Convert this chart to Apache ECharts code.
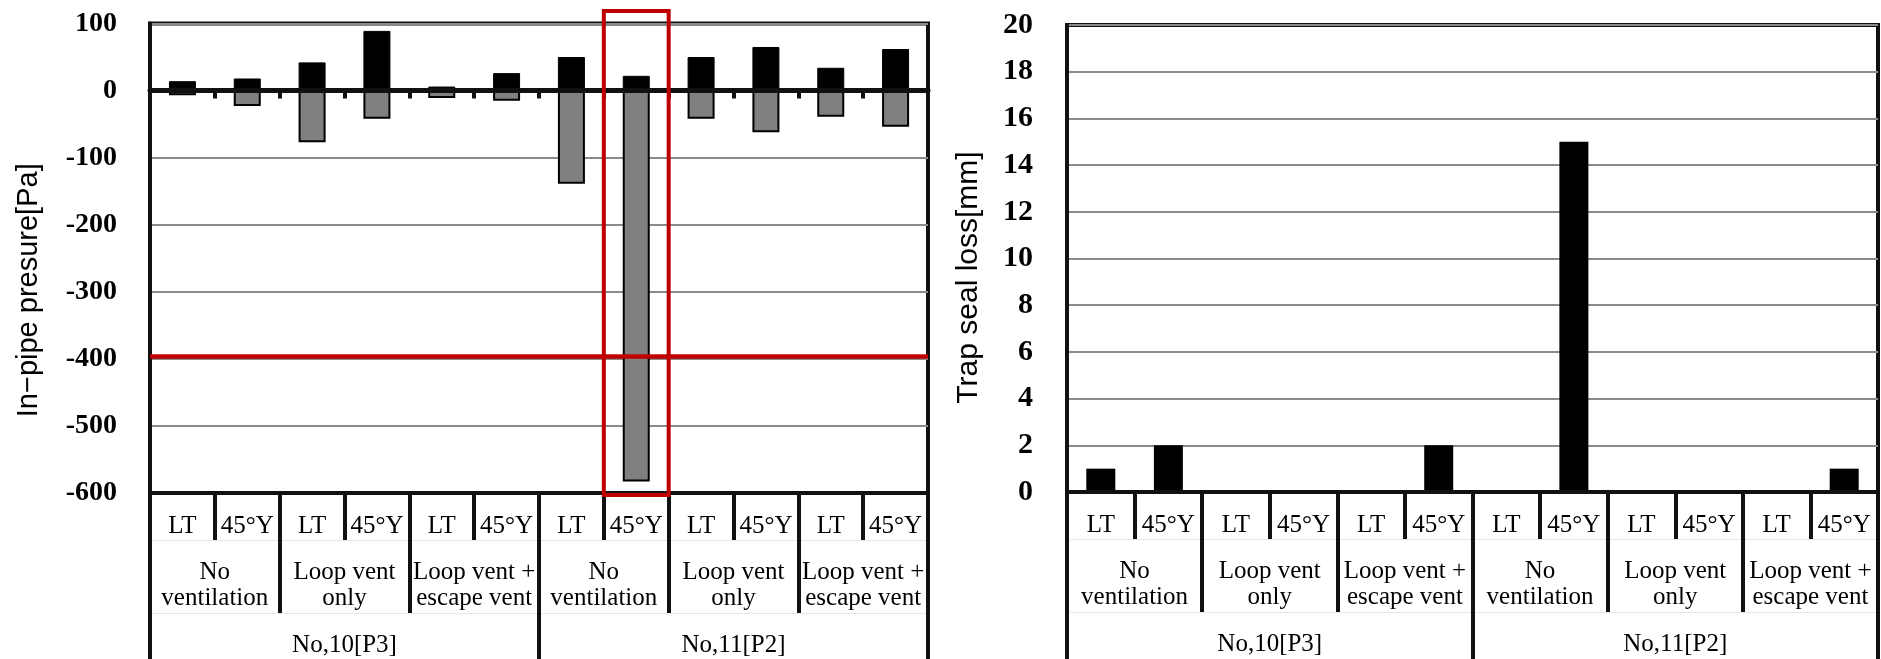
<!DOCTYPE html>
<html><head><meta charset="utf-8">
<script src="https://cdn.jsdelivr.net/npm/echarts@6/dist/echarts.min.js"></script>
<style>html,body{margin:0;padding:0;background:#fff}#c{width:1881px;height:659px}</style>
</head><body><div id="c"></div>
<script>
const categories = ['LT','45°Y','LT','45°Y','LT','45°Y','LT','45°Y','LT','45°Y','LT','45°Y'];
const ventTypes = ['No\nventilation','Loop vent\nonly','Loop vent +\nescape vent','No\nventilation','Loop vent\nonly','Loop vent +\nescape vent'];
const pipes = ['No,10[P3]','No,11[P2]'];
const pressureMax = [14, 18, 42, 89, 6, 26, 50, 22, 50, 65, 34, 62];
const pressureMin = [-7, -23, -77, -42, -11, -15, -139, -583, -42, -62, -39, -54];
const sealLoss = [1, 2, 0, 0, 0, 2, 0, 15, 0, 0, 0, 1];
const pressureRange = [-600, 100, 100];
const sealRange = [0, 20, 2];
const pressureLimit = -396;
const highlightIndex = 7;

const SERIF = "'Liberation Serif','Times New Roman',serif";
const SANS = "'Liberation Sans',Arial,sans-serif";
const BLACK = '#111';

function tableAxes(gridIndex) {
  const lab = {interval:0, fontFamily:SERIF, fontSize:25, color:'#000', verticalAlign:'middle', lineHeight:26};
  return [
    {gridIndex, type:'category', data:categories, position:'bottom', offset:0,
     axisLine:{onZero:false, lineStyle:{color:BLACK, width:4}},
     axisTick:{show:true, interval:0, length:47, lineStyle:{color:BLACK, width:4}},
     axisLabel:Object.assign({}, lab, {margin:33}), splitLine:{show:false}, z:4},
    {gridIndex, type:'category', data:ventTypes, position:'bottom', offset:47,
     axisLine:{onZero:false, lineStyle:{color:'#e6e6e6', width:1}},
     axisTick:{show:true, interval:0, length:73, lineStyle:{color:BLACK, width:4}},
     axisLabel:Object.assign({}, lab, {margin:45}), splitLine:{show:false}, z:4},
    {gridIndex, type:'category', data:pipes, position:'bottom', offset:120,
     axisLine:{onZero:false, lineStyle:{color:'#e6e6e6', width:1}},
     axisTick:{show:true, interval:0, length:60, lineStyle:{color:BLACK, width:4}},
     axisLabel:Object.assign({}, lab, {margin:32}), splitLine:{show:false}, z:4}
  ];
}

const chart = echarts.init(document.getElementById('c'));
chart.setOption({
  animation:false,
  backgroundColor:'#fff',
  grid:[
    {left:150, top:23.5, width:778, height:469.5, show:true, borderColor:BLACK, borderWidth:4, backgroundColor:'transparent'},
    {left:1067, top:25, width:811, height:467, show:true, borderColor:BLACK, borderWidth:4, backgroundColor:'transparent'}
  ],
  xAxis:[
    {gridIndex:0, type:'category', data:categories, position:'bottom',
     axisLine:{onZero:true, lineStyle:{color:BLACK, width:5}},
     axisTick:{show:true, interval:0, length:8, lineStyle:{color:BLACK, width:4}},
     axisLabel:{show:false}, splitLine:{show:false}, z:5},
    ...tableAxes(0),
    ...tableAxes(1)
  ],
  yAxis:[
    {gridIndex:0, type:'value', min:pressureRange[0], max:pressureRange[1], interval:pressureRange[2],
     name:'In\u2212pipe presure[Pa]', nameLocation:'middle', nameGap:107,
     nameTextStyle:{fontFamily:SANS, fontSize:29, color:'#000', padding:[0,64,0,0]},
     axisLine:{show:true, lineStyle:{color:BLACK, width:4}}, axisTick:{show:false},
     axisLabel:{fontFamily:SERIF, fontWeight:'bold', fontSize:28, color:'#000', margin:33},
     splitLine:{show:true, lineStyle:{color:'#8a8a8a', width:2}}},
    {gridIndex:1, type:'value', min:sealRange[0], max:sealRange[1], interval:sealRange[2],
     name:'Trap seal loss[mm]', nameLocation:'middle', nameGap:83,
     nameTextStyle:{fontFamily:SANS, fontSize:30, color:'#000', padding:[0,38,0,0]},
     axisLine:{show:true, lineStyle:{color:BLACK, width:4}}, axisTick:{show:false},
     axisLabel:{fontFamily:SERIF, fontWeight:'bold', fontSize:30, color:'#000', margin:34},
     splitLine:{show:true, lineStyle:{color:'#8a8a8a', width:2}}}
  ],
  series:[
    {type:'bar', xAxisIndex:0, yAxisIndex:0, data:pressureMax, barWidth:27,
     itemStyle:{color:'#000', borderColor:'#000', borderWidth:1}},
    {type:'bar', xAxisIndex:0, yAxisIndex:0, data:pressureMin, barWidth:27, barGap:'-100%',
     itemStyle:{color:'#808080', borderColor:'#000', borderWidth:2},
     markLine:{silent:true, symbol:['none','none'], label:{show:false},
       lineStyle:{color:'#C00000', width:4.5, type:'solid'}, data:[{yAxis:pressureLimit}]}},
    {type:'custom', xAxisIndex:0, yAxisIndex:0, data:[[highlightIndex, 0]], z:10, silent:true,
     renderItem:function(params, api){
       const i = api.value(0);
       const t = api.coord([i, pressureRange[1]]);
       const b = api.coord([i, pressureRange[0]]);
       const w = api.size([1, 0])[0];
       return {type:'rect', shape:{x:t[0]-w/2, y:t[1]-12.5, width:w, height:b[1]-t[1]+14.5},
               style:{fill:'none', stroke:'#C00000', lineWidth:4}};
     }},
    {type:'bar', xAxisIndex:4, yAxisIndex:1, data:sealLoss, barWidth:29,
     itemStyle:{color:'#000'}}
  ]
});
</script></body></html>
